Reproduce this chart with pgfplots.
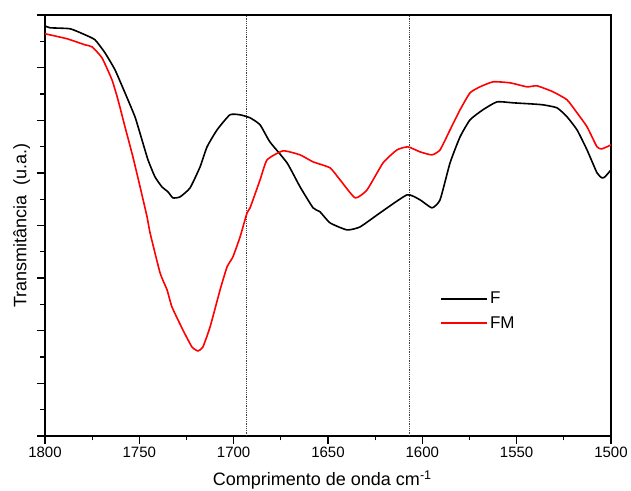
\documentclass[border=0pt]{standalone}
\usepackage{fontspec}
\setmainfont{Liberation Sans}
\usepackage{pgfplots}
\pgfplotsset{compat=1.18}
\begin{document}
\begin{tikzpicture}
\begin{axis}[
  scale only axis,
  width=566pt, height=421pt,
  x dir=reverse,
  xmin=1500, xmax=1800,
  ymin=0, ymax=8,
  xtick={1500,1550,...,1800},
  minor x tick num=1,
  ytick={0,1,...,8},
  minor y tick num=1,
  yticklabels={},
  tick align=outside,
  xtick pos=bottom, ytick pos=left,
  major tick length=8pt, minor tick length=4.5pt,
  tick style={line width=1.3pt, black},
  axis line style={line width=1.3pt},
  /pgf/number format/assume math mode=true,
  /pgf/number format/1000 sep={},
  xticklabel style={font=\fontsize{15}{17}\selectfont},
  xlabel={Comprimento de onda cm\textsuperscript{-1}},
  ylabel={Transmitância\ \ (u.a.)},
  xlabel style={font=\fontsize{18}{20}\selectfont, at={(axis description cs:0.49,-0.082)}, anchor=north, inner sep=0pt},
  ylabel style={font=\fontsize{18}{20}\selectfont, at={(axis description cs:-0.026,0.5)}, anchor=south, inner sep=0pt},
  legend style={at={(0.693,0.36)}, anchor=north west, draw=none, fill=none, font=\fontsize{17}{21}\selectfont, nodes={inner ysep=5.5pt}},
  legend cell align=left,
  legend image code/.code={\draw[#1] plot coordinates {(0pt,0pt) (46pt,0pt)};},
]
\addplot[densely dotted, black!75, line width=0.8pt, forget plot] coordinates {(1693,0) (1693,8)};
\addplot[densely dotted, black!75, line width=0.8pt, forget plot] coordinates {(1607,0) (1607,8)};
\addplot[black, line width=1.6pt, smooth, tension=0.3] coordinates {
(1800,7.795) (1797.3,7.757) (1786.7,7.738) (1778.8,7.624) (1773.5,7.529)
(1768.2,7.281) (1762.9,6.958) (1757.6,6.521) (1752.3,6.065) (1748.6,5.627)
(1745.4,5.247) (1741.7,4.924) (1738.0,4.734) (1734.8,4.639) (1732.2,4.525)
(1728.4,4.544) (1723.1,4.715) (1717.8,5.114) (1714.1,5.494) (1708.8,5.817)
(1702.0,6.103) (1696.6,6.103) (1691.3,6.046) (1686.0,5.913) (1680.8,5.589)
(1671.7,5.190) (1664.8,4.734) (1657.9,4.335) (1654.2,4.259)
(1648.9,4.049) (1639.9,3.916) (1633.0,3.973) (1622.4,4.240) (1608.1,4.582)
(1601.2,4.487) (1594.9,4.335) (1590.6,4.487) (1585.3,5.190) (1580.0,5.684)
(1574.7,6.008) (1567.9,6.198) (1560.4,6.350) (1552.0,6.331) (1543.0,6.312)
(1536.1,6.293) (1528.6,6.236) (1523.3,6.065) (1518.0,5.817) (1512.7,5.437)
(1507.4,5.000) (1504.8,4.905) (1503.2,4.924) (1500,5.057)
};
\addlegendentry{F}
\addplot[color=red, line width=1.6pt, smooth, tension=0.3] coordinates {
(1800,7.643) (1788.3,7.548) (1778.8,7.433) (1775.1,7.395) (1769.8,7.186)
(1764.5,6.768) (1761.3,6.388) (1757.6,5.875) (1753.4,5.304) (1749.6,4.734)
(1745.9,4.163) (1744.3,3.859) (1739.0,3.099)
(1735.3,2.776) (1732.7,2.452) (1726.9,2.015) (1722.1,1.692) (1718.9,1.616)
(1716.3,1.692) (1712.5,2.072) (1707.2,2.776) (1703.5,3.213) (1700.4,3.403)
(1696.6,3.783) (1692.9,4.240) (1691.3,4.335) (1686.0,4.867) (1682.3,5.247)
(1673.8,5.418) (1664.8,5.342) (1657.9,5.209) (1648.9,5.095) (1643.6,4.867)
(1635.6,4.525) (1629.3,4.677) (1620.8,5.190) (1613.4,5.437) (1607.6,5.494)
(1601.2,5.399) (1594.9,5.342) (1590.6,5.437) (1585.3,5.817) (1580.0,6.198)
(1574.7,6.521) (1569.4,6.635) (1562.5,6.730) (1553.5,6.711) (1544.5,6.635)
(1539.2,6.654) (1530.7,6.540) (1523.3,6.388) (1518.0,6.141) (1512.7,5.875)
(1507.4,5.494) (1504.8,5.456) (1500,5.532)
};
\addlegendentry{FM}
\end{axis}
\path ([xshift=-45pt,yshift=-55pt]current axis.south west) ([xshift=20pt,yshift=15pt]current axis.north east);
\end{tikzpicture}
\end{document}
